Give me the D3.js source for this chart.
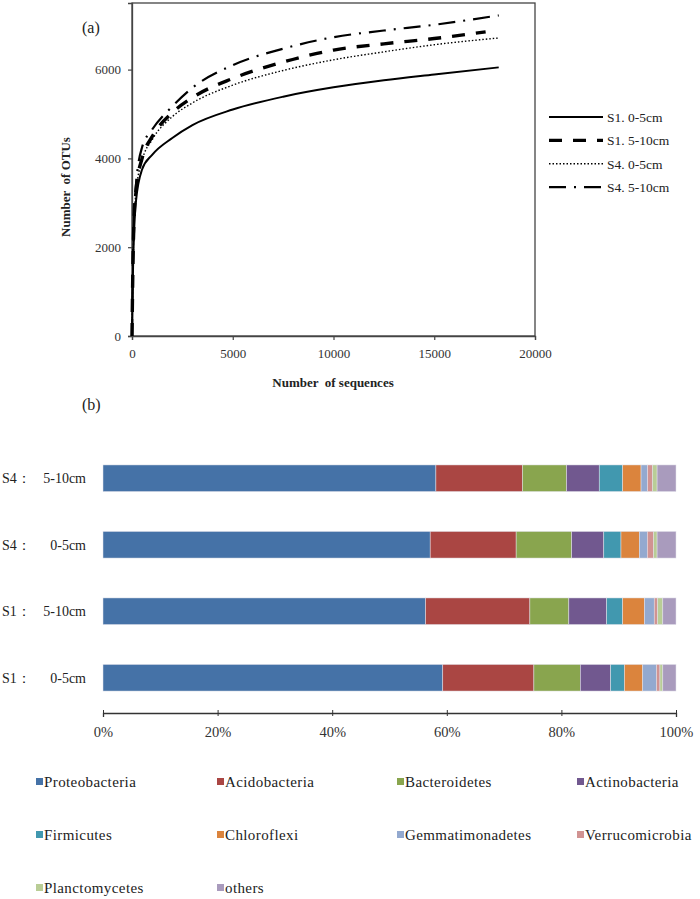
<!DOCTYPE html>
<html>
<head>
<meta charset="utf-8">
<script src="https://cdn.jsdelivr.net/npm/d3@7"></script>
<style>
  body { margin: 0; background: #fff; }
  svg { display: block; }
  svg text { font-family: "Liberation Serif", "DejaVu Serif", serif; }
</style>
</head>
<body>
<div id="chart"></div>
<script>
// ---- (a) rarefaction curves ----
const seriesNames = ["S1. 0-5cm", "S1. 5-10cm", "S4. 0-5cm", "S4. 5-10cm"];
const s1Shallow = [[0,0],[50,1500],[100,2300],[200,3050],[500,3750],[1000,4080],[2000,4460],[3000,4750],[5000,5100],[7500,5390],[10000,5600],[12500,5760],[15000,5890],[18200,6050]];
const s1Deep    = [[0,0],[50,1700],[100,2600],[200,3300],[500,4000],[1000,4490],[2000,5030],[3000,5370],[5000,5800],[7500,6170],[10000,6440],[12500,6580],[15000,6700],[17550,6850]];
const s4Shallow = [[0,0],[50,1600],[100,2500],[200,3250],[500,3950],[1000,4420],[2000,4940],[3000,5250],[5000,5650],[7500,5980],[10000,6220],[12500,6400],[15000,6560],[18150,6710]];
const s4Deep    = [[0,0],[50,1800],[100,2700],[200,3400],[500,4250],[1000,4650],[2000,5170],[3000,5590],[5000,6100],[7500,6470],[10000,6730],[12500,6880],[15000,7010],[18200,7220]];
const curveData = [s1Shallow, s1Deep, s4Shallow, s4Deep];
const xTicksA = [0, 5000, 10000, 15000, 20000];
const yTicksA = [0, 2000, 4000, 6000];

// ---- (b) community composition ----
const samples = ["S4： 5-10cm", "S4： 0-5cm", "S1： 5-10cm", "S1： 0-5cm"];
const phyla = ["Proteobacteria", "Acidobacteria", "Bacteroidetes", "Actinobacteria", "Firmicutes",
               "Chloroflexi", "Gemmatimonadetes", "Verrucomicrobia", "Planctomycetes", "others"];
const s4DeepPct    = [58.1, 15.1, 7.7, 5.7, 4.1, 3.2, 1.15, 0.85, 0.8, 3.3];
const s4ShallowPct = [57.1, 15.0, 9.7, 5.6, 3.0, 3.2, 1.4, 1.1, 0.6, 3.3];
const s1DeepPct    = [56.3, 18.2, 6.8, 6.6, 2.8, 3.8, 1.7, 0.6, 0.9, 2.3];
const s1ShallowPct = [59.3, 15.9, 8.1, 5.3, 2.4, 3.2, 2.4, 0.6, 0.5, 2.3];
const pctRows = [s4DeepPct, s4ShallowPct, s1DeepPct, s1ShallowPct];
const xTicksB = [0, 20, 40, 60, 80, 100];
const phylumColors = ["#4572A7", "#AA4643", "#89A54E", "#71588F", "#4198AF",
                      "#DB843D", "#93A9CF", "#D19392", "#B9CD96", "#A99BBD"];

const serif = "Liberation Serif, DejaVu Serif, serif";

const svg = d3.select("#chart").append("svg")
    .attr("width", 700)
    .attr("height", 899);

// ================= (a) =================
const xA = d3.scaleLinear().domain([0, 20000]).range([132, 535]);
const yA = d3.scaleLinear().domain([0, 7500]).range([336, 3]);

// plot frame
svg.append("rect")
    .attr("x", xA(0)).attr("y", yA(7500))
    .attr("width", xA(20000) - xA(0)).attr("height", yA(0) - yA(7500))
    .attr("fill", "none").attr("stroke", "#444").attr("stroke-width", 1.3);

const axA = svg.append("g").attr("transform", `translate(0,${yA(0)})`)
    .call(d3.axisBottom(xA).tickValues(xTicksA).tickSize(4).tickFormat(d3.format("d")));
const ayA = svg.append("g").attr("transform", `translate(${xA(0)},0)`)
    .call(d3.axisLeft(yA).tickValues(yTicksA).tickSize(4).tickFormat(d3.format("d")));
[axA, ayA].forEach(a => {
    a.attr("font-family", serif);
    a.select(".domain").attr("stroke", "#444").attr("stroke-width", 1.3);
    a.selectAll(".tick line").attr("stroke", "#444").attr("stroke-width", 1.2);
    a.selectAll(".tick text").attr("font-size", 13).attr("fill", "#333");
});
axA.selectAll(".tick text").attr("dy", "1.15em");
ayA.selectAll(".tick text").attr("dx", "-0.3em");

const lineStyles = [
    {width: 2, dash: null},
    {width: 3.4, dash: "13,11"},
    {width: 1.4, dash: "1.5,2"},
    {width: 2.2, dash: "17,8,2,8"}
];

const line = d3.line()
    .x(d => xA(d[0]))
    .y(d => yA(d[1]))
    .curve(d3.curveMonotoneX);

svg.selectAll(".curve")
    .data(curveData)
    .enter().append("path")
    .attr("class", "curve")
    .attr("d", line)
    .attr("fill", "none")
    .attr("stroke", "#000")
    .attr("stroke-width", (d, i) => lineStyles[i].width)
    .attr("stroke-dasharray", (d, i) => lineStyles[i].dash);

// legend (a)
const legA = svg.append("g");
seriesNames.forEach((name, i) => {
    const y = 117 + i * 23.4;
    legA.append("line")
        .attr("x1", 549).attr("x2", 603).attr("y1", y).attr("y2", y)
        .attr("stroke", "#000")
        .attr("stroke-width", lineStyles[i].width)
        .attr("stroke-dasharray", lineStyles[i].dash);
    legA.append("text")
        .attr("x", 607).attr("y", y).attr("dy", "0.35em")
        .attr("font-family", serif)
        .attr("font-size", 13.5).attr("fill", "#222")
        .text(name);
});

svg.append("text")
    .attr("x", 82).attr("y", 27).attr("dy", "0.35em")
    .attr("font-family", "Liberation Sans, Arial, sans-serif")
    .attr("font-size", 16).attr("fill", "#222")
    .text("(a)");

svg.append("text")
    .attr("transform", "translate(65,187) rotate(-90)")
    .attr("text-anchor", "middle").attr("dy", "0.35em")
    .attr("font-family", serif)
    .attr("font-size", 13).attr("font-weight", "bold").attr("fill", "#222")
    .attr("xml:space", "preserve")
    .text("Number  of OTUs");

svg.append("text")
    .attr("x", 333).attr("y", 382).attr("dy", "0.35em")
    .attr("text-anchor", "middle")
    .attr("font-family", serif)
    .attr("font-size", 13).attr("font-weight", "bold").attr("fill", "#222")
    .attr("xml:space", "preserve")
    .text("Number  of sequences");

// ================= (b) =================
svg.append("text")
    .attr("x", 82).attr("y", 404).attr("dy", "0.35em")
    .attr("font-family", "Liberation Sans, Arial, sans-serif")
    .attr("font-size", 16).attr("fill", "#222")
    .text("(b)");

const xB = d3.scaleLinear().domain([0, 100]).range([103, 676]);
const yB = d3.scaleBand().domain(samples).range([445, 711]).paddingInner(0.6).paddingOuter(0.3);

const stacked = d3.stack().keys(d3.range(phyla.length))(
    pctRows.map(r => r.slice())
);

svg.selectAll(".layer")
    .data(stacked)
    .enter().append("g")
    .attr("class", "layer")
    .attr("fill", (d, i) => phylumColors[i])
    .selectAll("rect")
    .data(d => d.map((v, j) => ({v: v, s: samples[j]})))
    .enter().append("rect")
    .attr("x", d => xB(d.v[0]))
    .attr("y", d => yB(d.s))
    .attr("width", d => xB(d.v[1]) - xB(d.v[0]))
    .attr("height", yB.bandwidth())
    .attr("stroke", "#e4e4ec").attr("stroke-width", 0.5);

// category labels
samples.forEach(s => {
    const parts = s.split("： ");
    const cy = yB(s) + yB.bandwidth() / 2;
    svg.append("text")
        .attr("x", 2).attr("y", cy).attr("dy", "0.35em")
        .attr("font-family", serif)
        .attr("font-size", 14).attr("fill", "#222")
        .text(parts[0] + "：");
    svg.append("text")
        .attr("x", 86).attr("y", cy).attr("dy", "0.35em")
        .attr("text-anchor", "end")
        .attr("font-family", serif)
        .attr("font-size", 14).attr("fill", "#222")
        .text(parts[1]);
});

const axB = svg.append("g").attr("transform", "translate(0,713)")
    .call(d3.axisBottom(xB).tickValues(xTicksB).tickSize(4).tickFormat(d => d + "%"));
axB.attr("font-family", serif);
axB.select(".domain").attr("stroke", "#333").attr("stroke-width", 1.3);
axB.selectAll(".tick line").attr("stroke", "#333").attr("y1", -3).attr("y2", 3);
axB.selectAll(".tick text")
    .attr("font-size", 14.5).attr("fill", "#333")
    .attr("y", 19).attr("dy", "0.35em");

// legend (b)
const legendCols = [36, 217, 397, 577];
const legendRows = [782, 835, 888];
const legB = svg.append("g");
phyla.forEach((p, i) => {
    const cx = legendCols[i % 4];
    const cy = legendRows[Math.floor(i / 4)];
    legB.append("rect")
        .attr("x", cx).attr("y", cy - 4)
        .attr("width", 7).attr("height", 7)
        .attr("fill", phylumColors[i]);
    legB.append("text")
        .attr("x", cx + 8).attr("y", cy).attr("dy", "0.35em")
        .attr("font-family", serif)
        .attr("font-size", 15).attr("letter-spacing", 0.4).attr("fill", "#222")
        .text(p);
});
</script>
</body>
</html>
